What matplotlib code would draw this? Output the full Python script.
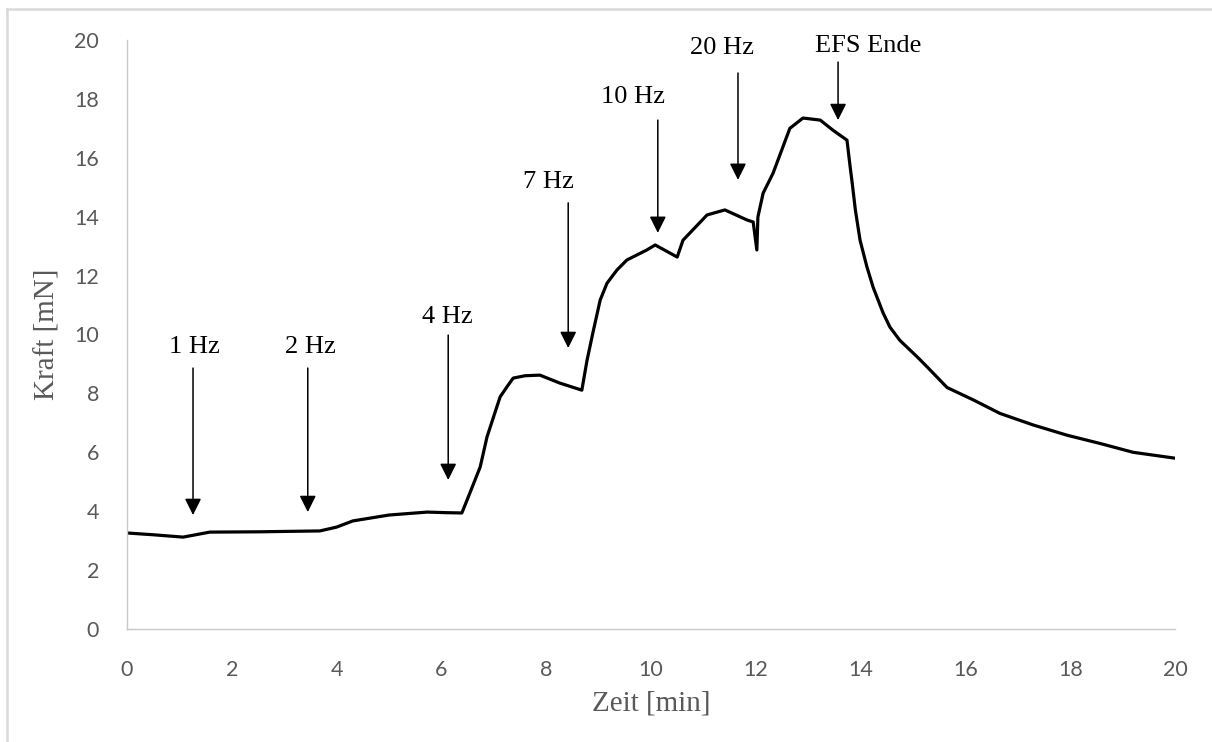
import matplotlib.pyplot as plt
from matplotlib.lines import Line2D

# Kraftverlauf
zeit = [0, 0.5, 1.07, 1.58, 2.5, 3.68, 4.0, 4.31, 5.0, 5.73, 6.1, 6.39,
        6.49, 6.74, 6.87, 7.12, 7.25, 7.37, 7.6, 7.88, 8.26, 8.68, 8.78,
        8.89, 9.03, 9.16, 9.35, 9.54, 9.92,
        10.08, 10.5, 10.61, 11.07, 11.41, 11.83, 11.95, 12.02, 12.04, 12.14,
        12.33, 12.65, 12.9, 13.23, 13.47, 13.74, 13.8, 13.84, 13.9, 13.99,
        14.12, 14.24, 14.43, 14.56, 14.75, 15.08, 15.27, 15.65, 16.15, 16.66,
        17.29, 17.94, 18.57, 19.2, 20]
kraft = [3.26, 3.2, 3.12, 3.29, 3.3, 3.33, 3.46, 3.67, 3.87, 3.97, 3.95, 3.94,
         4.38, 5.5, 6.52, 7.88, 8.22, 8.52, 8.6, 8.62, 8.35, 8.11, 9.13,
         10.05, 11.17, 11.74, 12.19, 12.53, 12.87,
         13.04, 12.63, 13.2, 14.06, 14.23, 13.89, 13.82, 12.87, 13.99, 14.8,
         15.48, 17.0, 17.35, 17.28, 16.94, 16.6, 15.7, 15.14, 14.23, 13.2,
         12.3, 11.6, 10.73, 10.25, 9.8, 9.24, 8.9, 8.2, 7.78, 7.32,
         6.93, 6.58, 6.3, 6.0, 5.8]

# Stimulationsmarken
labels = ["1 Hz", "2 Hz", "4 Hz", "7 Hz", "10 Hz", "20 Hz", "EFS Ende"]
pfeil_x = [1.26, 3.45, 6.13, 8.42, 10.13, 11.66, 13.57]
pfeil_spitze = [3.87, 3.97, 5.06, 9.54, 13.45, 15.25, 17.28]
pfeil_start = [8.86, 8.86, 9.98, 14.47, 17.28, 18.88, 19.25]
text_x = [1.28, 3.51, 6.11, 8.05, 9.65, 11.35, 13.13]
text_y = [9.58, 9.58, 10.59, 15.18, 18.06, 19.73, 19.8]
text_ha = ["center", "center", "center", "center", "center", "center", "left"]

fig = plt.figure(figsize=(12.12, 7.42), dpi=100)
ax = fig.add_axes([127 / 1212, 1 - 629 / 742, 1048 / 1212, 589 / 742])

ax.plot(zeit, kraft, color="black", lw=2.3, solid_joinstyle="round")

for lab, px, sp, st, tx, ty, ha in zip(labels, pfeil_x, pfeil_spitze, pfeil_start,
                                        text_x, text_y, text_ha):
    ax.annotate("", xy=(px, sp), xytext=(px, st),
                arrowprops=dict(arrowstyle="-|>,head_length=0.5,head_width=0.25",
                                mutation_scale=20, lw=1.1, color="black",
                                shrinkA=0, shrinkB=0), annotation_clip=False)
    ax.text(tx, ty, lab, ha=ha, va="center", fontsize=19,
            family="Liberation Serif", color="black", clip_on=False)

ax.set_xlim(0, 20)
ax.set_ylim(0, 20)
ax.set_xticks(range(0, 21, 2))
ax.set_yticks(range(0, 21, 2))
ax.tick_params(length=0, labelsize=15.5, labelcolor="#595959")
ax.tick_params(axis="x", pad=22)
ax.tick_params(axis="y", pad=20)
for t in ax.get_xticklabels() + ax.get_yticklabels():
    t.set_family("Lato")

for s in ["top", "right"]:
    ax.spines[s].set_visible(False)
for s in ["left", "bottom"]:
    ax.spines[s].set_color("#c8c8c8")
    ax.spines[s].set_linewidth(1.0)

ax.set_xlabel("Zeit [min]", fontsize=21, family="Liberation Serif",
              color="#595959", labelpad=8)
ax.set_ylabel("Kraft [mN]", fontsize=21, family="Liberation Serif",
              color="#595959", labelpad=10)

# Rahmen (nur links und oben sichtbar)
rx = 7 / 1212
ry = 1 - 9 / 742
fig.add_artist(Line2D([rx, rx], [0, ry], transform=fig.transFigure,
                      color="#d9d9d9", lw=1.8))
fig.add_artist(Line2D([rx, 1], [ry, ry], transform=fig.transFigure,
                      color="#d9d9d9", lw=1.8))

fig.savefig("out.png", dpi=100)
